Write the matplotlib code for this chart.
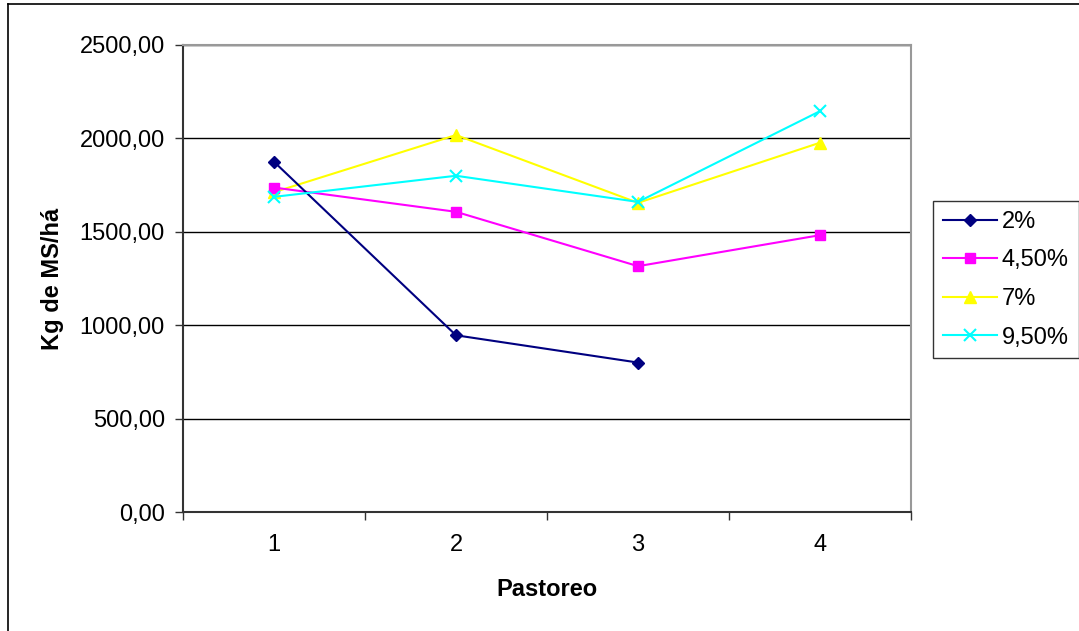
import matplotlib
matplotlib.use("Agg")
import matplotlib.pyplot as plt
from matplotlib.lines import Line2D

plt.rcParams['font.family'] = ['Liberation Sans', 'DejaVu Sans']

# Data
pastoreo = [1, 2, 3, 4]
serie_2 = [1875, 946, 800]
serie_450 = [1737, 1607, 1316, 1482]
serie_7 = [1712, 2018, 1655, 1977]
serie_950 = [1687, 1800, 1660, 2146]
y_ticks = [0, 500, 1000, 1500, 2000, 2500]
y_labels = ["0,00", "500,00", "1000,00", "1500,00", "2000,00", "2500,00"]

fig = plt.figure(figsize=(10.79, 6.31), dpi=100)
ax = fig.add_axes([183 / 1079, 1 - 512 / 631, 728 / 1079, 467 / 631])

# Series
ax.plot(pastoreo[:len(serie_2)], serie_2, color='#000080', marker='D', markersize=6.5,
        linewidth=1.5, label='2%', zorder=5)
ax.plot(pastoreo, serie_450, color='#FF00FF', marker='s', markersize=7,
        linewidth=1.5, label='4,50%', zorder=4)
ax.plot(pastoreo, serie_7, color='#FFFF00', marker='^', markersize=8,
        linewidth=1.5, label='7%', zorder=3)
ax.plot(pastoreo, serie_950, color='#00FFFF', marker='x', markersize=9,
        markeredgewidth=1.5, linewidth=1.5, label='9,50%', zorder=6)

# Axes limits and ticks
ax.set_xlim(0.5, 4.5)
ax.set_ylim(0, 2500)
ax.set_yticks(y_ticks)
ax.set_yticklabels(y_labels, fontsize=17)
ax.set_xticks([0.5, 1.5, 2.5, 3.5, 4.5])
ax.set_xticklabels([])
ax.set_xticks(pastoreo, minor=True)
ax.set_xticklabels([str(p) for p in pastoreo], minor=True, fontsize=17)
ax.tick_params(axis='x', which='major', direction='out', length=6, width=1, color='#333333')
ax.tick_params(axis='x', which='minor', length=0, pad=16)
ax.tick_params(axis='y', direction='out', length=6, width=1, color='#333333', pad=7)

# Gridlines
ax.yaxis.grid(True, color='black', linewidth=1)
ax.set_axisbelow(True)

for side in ['left', 'bottom']:
    ax.spines[side].set_color('#333333')
    ax.spines[side].set_linewidth(1.5)
for side in ['top', 'right']:
    ax.spines[side].set_color('#999999')
    ax.spines[side].set_linewidth(1.5)

ax.set_xlabel('Pastoreo', fontsize=17, fontweight='bold', labelpad=16)
ax.set_ylabel('Kg de MS/há', fontsize=17, fontweight='bold', labelpad=11)

# Legend
leg = fig.legend(loc='upper left', bbox_to_anchor=(933 / 1079, 1 - 201 / 631),
                 fontsize=17, frameon=True, fancybox=False, handlelength=2.3,
                 handletextpad=0.2, labelspacing=0.7, borderpad=0.42,
                 borderaxespad=0)
leg.get_frame().set_edgecolor('black')
leg.get_frame().set_linewidth(1)

# Outer chart border (left and top only visible)
fig.add_artist(Line2D([8 / 1079, 8 / 1079], [0, 1 - 4 / 631], transform=fig.transFigure,
                      color='black', linewidth=1.2))
fig.add_artist(Line2D([8 / 1079, 1], [1 - 4 / 631, 1 - 4 / 631], transform=fig.transFigure,
                      color='black', linewidth=1.2))

fig.savefig('out.png', dpi=100)
